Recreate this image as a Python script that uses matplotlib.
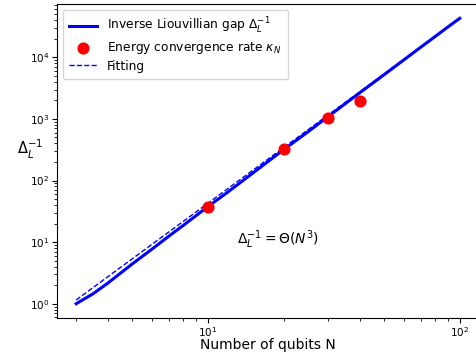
import matplotlib
matplotlib.use("Agg")
from matplotlib import pyplot as plt

# inverse Liouvillian gap vs number of qubits
n_qubits = [3, 3.5, 4, 5, 6, 7, 8, 10, 12, 15, 20, 25, 30, 40, 50, 60, 70, 80, 90, 100]
inv_gap = [1.0, 1.45, 2.15, 4.4, 7.7, 12.5, 18.8, 37.7, 65, 130, 318, 620, 1090,
           2640, 5200, 9100, 14600, 21900, 31400, 43000]

# energy convergence rate from simulation
n_sim = [10, 20, 30, 40]
kappa = [36.8, 319, 1046, 1950]

# power-law fit endpoints
n_fit = [3, 100]
fit_vals = [1.15, 43000]

fig = plt.figure(figsize=(4.76, 3.53), dpi=100)
ax = fig.add_axes([57 / 476, 1 - 318 / 353, 422 / 476, 314 / 353])

ax.plot(n_qubits, inv_gap, color="blue", lw=2.2, label=r"Inverse Liouvillian gap $\Delta_L^{-1}$")
ax.scatter(n_sim, kappa, color="red", s=60, zorder=3, label=r"Energy convergence rate $\kappa_N$")
ax.plot(n_fit, fit_vals, color="blue", ls="--", lw=1, label="Fitting")

ax.set_xscale("log")
ax.set_yscale("log")
ax.tick_params(labelsize=7.5, pad=2)
ax.set_xlabel("Number of qubits N", fontsize=10)
ax.xaxis.set_label_coords(0.5, -0.064)
ax.set_ylabel(r"$\Delta_L^{-1}$", fontsize=10.5, rotation=0)
ax.yaxis.set_label_coords(-0.064, 0.5)
ax.text(13, 11, r"$\Delta_L^{-1} = \Theta(N^3)$", fontsize=10, va="center")
ax.legend(loc="upper left", fontsize=8.8, handlelength=2.3, labelspacing=0.3,
          borderpad=0.55, borderaxespad=0.45)

fig.savefig("out.png", dpi=100)
